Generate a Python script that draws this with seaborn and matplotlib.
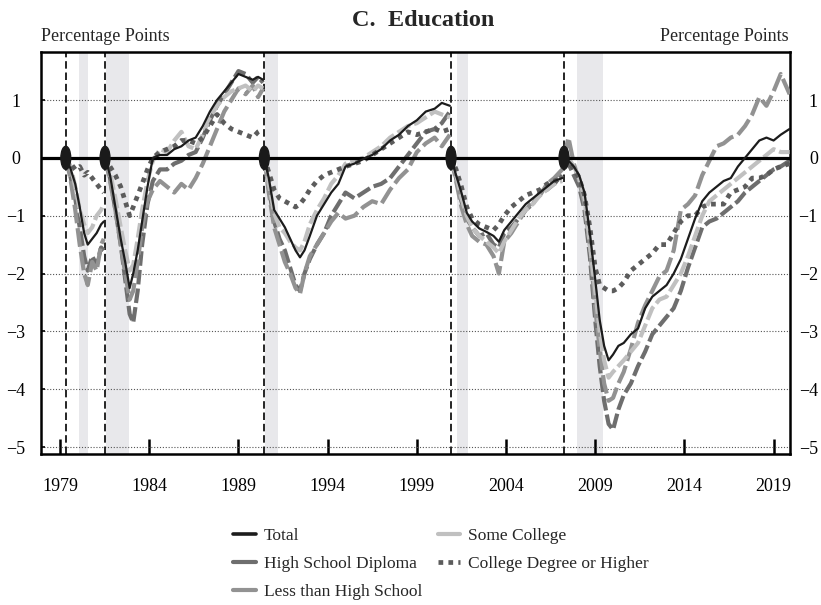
import numpy as np
import pandas as pd
import matplotlib
matplotlib.use('Agg')
import matplotlib.pyplot as plt
from matplotlib.patches import Ellipse
from matplotlib.lines import Line2D
import seaborn as sns

# cycle peaks (series reset to zero there) and recession bands
peaks = [1979.32, 1981.52, 1990.45, 2000.92, 2007.25]
rec_start = [1980.08, 1981.58, 1990.49, 2001.24, 2007.99]
rec_end = [1980.59, 1982.88, 1991.20, 2001.89, 2009.45]

# sample dates, one list per cycle
yrs_79 = [1979.34, 1979.6, 1979.85, 1980.1, 1980.35, 1980.55, 1980.8, 1981.05, 1981.3, 1981.45]
yrs_81 = [1981.52, 1981.8, 1982.1, 1982.4, 1982.65, 1982.9, 1983.1, 1983.35, 1983.6, 1983.9,
          1984.2, 1984.6, 1985.0, 1985.4, 1985.8, 1986.2, 1986.6, 1987.0, 1987.4, 1987.8,
          1988.2, 1988.6, 1989.0, 1989.4, 1989.8, 1990.1, 1990.38]
yrs_90 = [1990.45, 1990.7, 1991.0, 1991.3, 1991.6, 1991.9, 1992.2, 1992.45, 1992.7, 1993.0,
          1993.4, 1993.8, 1994.2, 1994.6, 1995.0, 1995.5, 1996.0, 1996.5, 1997.0, 1997.5,
          1998.0, 1998.5, 1999.0, 1999.5, 2000.0, 2000.4, 2000.85]
yrs_01 = [2000.92, 2001.2, 2001.5, 2001.8, 2002.1, 2002.5, 2002.9, 2003.3, 2003.6, 2003.9,
          2004.3, 2004.7, 2005.1, 2005.5, 2005.9, 2006.3, 2006.7, 2007.15]
yrs_07 = [2007.25, 2007.5, 2007.8, 2008.1, 2008.4, 2008.7, 2009.0, 2009.25, 2009.5, 2009.75,
          2010.0, 2010.3, 2010.6, 2011.0, 2011.4, 2011.8, 2012.2, 2012.6, 2013.0, 2013.4,
          2013.8, 2014.2, 2014.6, 2015.0, 2015.4, 2015.8, 2016.2, 2016.6, 2017.0, 2017.4,
          2017.8, 2018.2, 2018.6, 2019.0, 2019.4, 2019.9]

total = [0, -0.2, -0.45, -0.85, -1.3, -1.5, -1.4, -1.3, -1.15, -1.1,
         0, -0.3, -0.85, -1.4, -1.8, -2.25, -2.0, -1.6, -1.1, -0.5,
         0.0, 0.05, 0.05, 0.15, 0.2, 0.3, 0.35, 0.55, 0.8, 1.0,
         1.15, 1.3, 1.45, 1.4, 1.35, 1.4, 1.35,
         0, -0.35, -0.9, -1.05, -1.2, -1.4, -1.6, -1.72, -1.6, -1.35,
         -1.0, -0.8, -0.6, -0.45, -0.15, -0.1, -0.02, 0.05, 0.15, 0.3,
         0.4, 0.55, 0.65, 0.8, 0.85, 0.95, 0.9,
         0, -0.3, -0.6, -0.95, -1.1, -1.22, -1.28, -1.35, -1.45, -1.25,
         -1.1, -0.95, -0.8, -0.7, -0.6, -0.5, -0.4, -0.35,
         0, -0.05, -0.15, -0.3, -0.6, -1.3, -2.1, -2.8, -3.25, -3.5,
         -3.4, -3.25, -3.2, -3.05, -2.95, -2.6, -2.4, -2.3, -2.2, -2.0,
         -1.75, -1.4, -1.05, -0.75, -0.6, -0.5, -0.4, -0.35, -0.15, 0.0,
         0.15, 0.3, 0.35, 0.3, 0.4, 0.5]
hs_diploma = [0, -0.35, -0.7, -1.2, -1.7, -1.95, -1.7, -1.85, -1.55, -1.6,
              0, -0.35, -0.9, -1.5, -2.1, -2.7, -2.85, -2.3, -1.5, -0.8,
              -0.4, -0.2, -0.2, -0.1, -0.05, 0.05, 0.1, 0.35, 0.65, 0.9,
              1.1, 1.3, 1.5, 1.45, 1.3, 1.4, 1.3,
              0, -0.5, -1.1, -1.4, -1.6, -1.9, -2.2, -2.3, -2.0, -1.75,
              -1.5, -1.3, -1.0, -0.8, -0.6, -0.7, -0.6, -0.5, -0.45, -0.35,
              -0.15, 0.05, 0.25, 0.45, 0.5, 0.6, 0.8,
              0, -0.35, -0.75, -1.05, -1.2, -1.35, -1.3, -1.5, -1.55, -1.3,
              -1.2, -1.05, -0.9, -0.8, -0.6, -0.55, -0.45, -0.3,
              0, -0.1, -0.3, -0.5, -0.9, -1.7, -2.8, -3.6, -4.2, -4.6,
              -4.7, -4.35, -4.1, -3.9, -3.6, -3.35, -3.05, -2.9, -2.75, -2.6,
              -2.3, -1.9, -1.55, -1.2, -1.1, -1.05, -0.95, -0.85, -0.75, -0.6,
              -0.5, -0.4, -0.3, -0.2, -0.15, -0.05]
less_hs = [0, -0.4, -0.9, -1.5, -2.0, -2.2, -1.8, -1.95, -1.5, -1.4,
           0, -0.4, -0.9, -1.5, -2.0, -2.45, -2.3, -1.8, -1.2, -0.75,
           -0.55, -0.4, -0.5, -0.6, -0.45, -0.55, -0.35, -0.1, 0.2, 0.5,
           0.8, 1.0, 1.2, 1.1, 1.25, 1.05, 1.2,
           0, -0.6, -1.2, -1.5, -1.8, -2.0, -2.25, -2.35, -2.0, -1.7,
           -1.5, -1.3, -1.1, -0.95, -1.05, -1.0, -0.85, -0.75, -0.8, -0.55,
           -0.35, -0.2, 0.1, 0.25, 0.35, 0.2, 0.4,
           0, -0.4, -0.85, -1.15, -1.35, -1.45, -1.5, -1.7, -2.0, -1.45,
           -1.3, -1.1, -0.9, -0.75, -0.65, -0.45, -0.35, -0.2,
           0, 0.35, -0.1, -0.4, -0.8, -1.5, -2.6, -3.3, -3.9, -4.2,
           -4.15, -3.9, -3.7, -3.3, -2.85, -2.55, -2.3, -2.05, -1.95, -1.6,
           -0.9, -0.8, -0.65, -0.3, -0.05, 0.2, 0.25, 0.35, 0.4, 0.55,
           0.75, 1.05, 0.9, 1.15, 1.45, 1.1]
some_college = [0, -0.15, -0.5, -0.9, -1.15, -1.3, -1.2, -1.0, -0.9, -0.8,
                0, -0.25, -0.7, -1.2, -1.6, -1.95, -1.85, -1.4, -0.9, -0.4,
                -0.05, 0.15, 0.1, 0.3, 0.45, 0.2, 0.15, 0.4, 0.7, 0.9,
                1.05, 1.15, 1.2, 1.25, 1.15, 1.25, 1.2,
                0, -0.45, -0.95, -1.2, -1.3, -1.45, -1.55, -1.6, -1.45, -1.15,
                -0.9, -0.7, -0.45, -0.3, -0.1, -0.05, 0.0, 0.1, 0.2, 0.35,
                0.45, 0.55, 0.6, 0.7, 0.8, 0.75, 0.7,
                0, -0.3, -0.7, -1.0, -1.2, -1.35, -1.45, -1.55, -1.65, -1.45,
                -1.25, -1.05, -0.9, -0.8, -0.65, -0.55, -0.45, -0.4,
                0, 0.0, -0.15, -0.35, -0.7, -1.5, -2.3, -3.0, -3.5, -3.8,
                -3.7, -3.6, -3.5, -3.35, -3.2, -2.9, -2.6, -2.45, -2.4, -2.2,
                -2.0, -1.7, -1.35, -1.0, -0.75, -0.65, -0.55, -0.45, -0.35, -0.25,
                -0.15, -0.05, 0.05, 0.15, 0.1, 0.1]
college_plus = [0, -0.1, -0.2, -0.15, -0.3, -0.25, -0.35, -0.45, -0.55, -0.6,
                0, -0.15, -0.3, -0.5, -0.75, -1.0, -0.85, -0.65, -0.45, -0.2,
                0.0, 0.1, 0.15, 0.2, 0.3, 0.3, 0.25, 0.35, 0.55, 0.75,
                0.6, 0.5, 0.45, 0.4, 0.35, 0.45, 0.5,
                0, -0.25, -0.55, -0.7, -0.75, -0.8, -0.85, -0.8, -0.7, -0.55,
                -0.4, -0.3, -0.25, -0.2, -0.15, -0.1, -0.05, 0.05, 0.15, 0.25,
                0.35, 0.45, 0.4, 0.45, 0.5, 0.45, 0.5,
                0, -0.2, -0.5, -0.85, -1.05, -1.15, -1.2, -1.25, -1.15, -1.0,
                -0.85, -0.75, -0.65, -0.6, -0.55, -0.45, -0.4, -0.35,
                0, -0.05, -0.2, -0.35, -0.65, -1.2, -1.9, -2.2, -2.25, -2.3,
                -2.3, -2.25, -2.15, -1.95, -1.85, -1.75, -1.65, -1.5, -1.5, -1.3,
                -1.1, -1.0, -1.0, -0.85, -0.8, -0.8, -0.8, -0.6, -0.55, -0.5,
                -0.35, -0.35, -0.3, -0.2, -0.15, -0.1]

names = ['Total', 'High School Diploma', 'Less than High School',
         'Some College', 'College Degree or Higher']
values = [total, hs_diploma, less_hs, some_college, college_plus]

cycles = [yrs_79, yrs_81, yrs_90, yrs_01, yrs_07]
years = sum(cycles, [])
cycle_id = sum([[i] * len(c) for i, c in enumerate(cycles)], [])
df = pd.concat([pd.DataFrame({'year': years, 'cycle': cycle_id, 'value': v, 'group': n})
                for n, v in zip(names, values)], ignore_index=True)

styles = {
    'High School Diploma': dict(color='#6e6e6e', lw=3.0, ls=(0, (3.5, 1.0)), z=3.1),
    'Less than High School': dict(color='#929292', lw=3.0, ls=(0, (4.5, 1.2)), z=3.2),
    'Some College': dict(color='#c0c0c0', lw=3.0, ls=(0, (3.5, 1.0)), z=3.3),
    'College Degree or Higher': dict(color='#5c5c5c', lw=3.4, ls=(0, (1, 1.1)), z=3.4),
    'Total': dict(color='#1c1c1c', lw=1.6, ls='-', z=5),
}

sns.set_style('white')
plt.rcParams['font.family'] = ['Liberation Serif', 'DejaVu Serif']

fig = plt.figure(figsize=(8.21, 6.05), dpi=100)
ax = fig.add_axes([41/821, 1 - 454/605, (790 - 41)/821, (454 - 52)/605])

for a, b in zip(rec_start, rec_end):
    ax.axvspan(a, b, color='#e8e8eb', lw=0, zorder=0)
for p in peaks:
    ax.axvline(p, color='black', lw=1.2, ls=(0, (4.5, 2.3)), zorder=2)

for n in ['High School Diploma', 'Less than High School', 'Some College',
          'College Degree or Higher', 'Total']:
    st = styles[n]
    sns.lineplot(data=df[df.group == n], x='year', y='value', units='cycle',
                 estimator=None, color=st['color'], lw=st['lw'], linestyle=st['ls'],
                 zorder=st['z'], legend=False, ax=ax)

ax.axhline(0, color='black', lw=2.3, zorder=4.5)
for p in peaks:
    ax.add_patch(Ellipse((p, 0), 0.55, 0.4, color='#1a1a1a', zorder=6))

ylim = (-5.12, 1.83)
ax.set_xlim(1977.93, 2019.92)
ax.set_ylim(*ylim)
ax.set_xticks(range(1979, 2020, 5))
ax.set_yticks(range(-5, 2))
ax.set_xlabel('')
ax.set_ylabel('')
ax.yaxis.grid(True, color='#555555', lw=0.8, linestyle=(0, (1, 1.6)))
ax.xaxis.grid(False)

ax.tick_params(axis='x', direction='in', length=10.5, width=1.8, pad=17,
               labelsize=13, bottom=True, top=False, colors='black')
ax.tick_params(axis='y', direction='in', length=3, width=1.2, pad=18,
               labelsize=13, left=True, right=True, labelleft=True,
               labelright=False, colors='black')
for t in ax.yaxis.get_major_ticks():
    t.label1.set_horizontalalignment('center')
for s in ax.spines.values():
    s.set_visible(True)
    s.set_color('black')
    s.set_linewidth(1.8)

# right-hand tick labels
ax2 = ax.twinx()
ax2.set_ylim(*ylim)
ax2.set_yticks(range(-5, 2))
ax2.grid(False)
ax2.tick_params(axis='y', direction='in', length=0, pad=20,
                labelsize=13, left=False, right=True, labelleft=False,
                labelright=True, colors='black')
for lab in ax2.get_yticklabels():
    lab.set_horizontalalignment('right')
for s in ax2.spines.values():
    s.set_visible(False)

fig.text(0.516, 1 - 26.5/605, 'C.  Education', ha='center', va='baseline',
         fontsize=17.5, fontweight='bold')
fig.text(41/821, 1 - 41/605, 'Percentage Points', ha='left', va='baseline', fontsize=13)
fig.text(789/821, 1 - 41/605, 'Percentage Points', ha='right', va='baseline', fontsize=13)

handles = []
for n in names:
    st = styles[n]
    if n == 'College Degree or Higher':
        handles.append(Line2D([], [], color=st['color'], lw=3.4, ls=(0, (1, 1.1))))
    elif n == 'Total':
        handles.append(Line2D([], [], color=st['color'], lw=2.6))
    else:
        handles.append(Line2D([], [], color=st['color'], lw=3.0))
fig.legend(handles, names, loc='center', bbox_to_anchor=(0.537, 0.068), ncol=2,
           frameon=False, fontsize=12.5, handlelength=1.3, handletextpad=0.45,
           columnspacing=0.9, labelspacing=0.7)

fig.savefig('out.png', dpi=100)
